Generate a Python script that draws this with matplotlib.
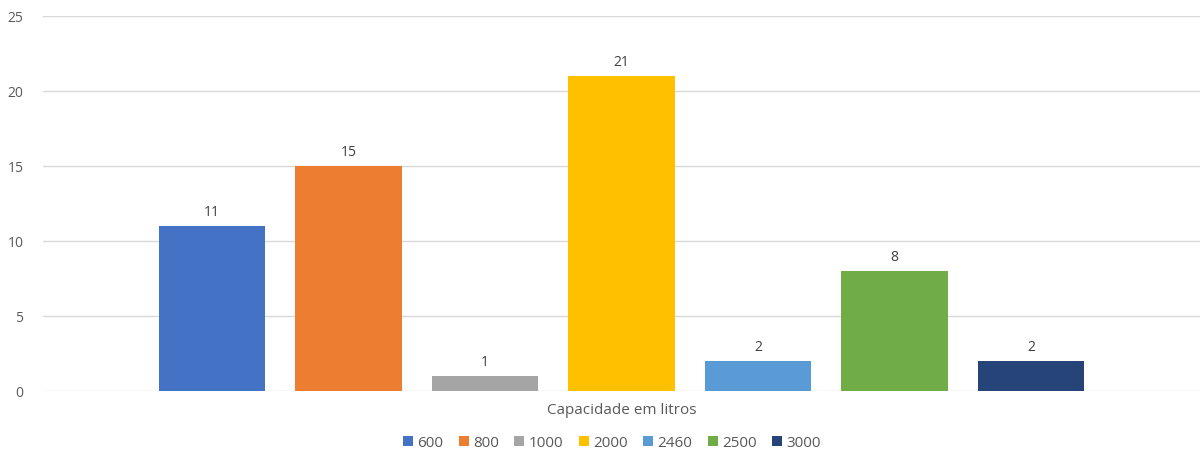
import matplotlib.pyplot as plt
import numpy as np

# data
labels = ["600", "800", "1000", "2000", "2460", "2500", "3000"]
values = [11, 15, 1, 21, 2, 8, 2]
colors = ["#4472C4", "#ED7D31", "#A5A5A5", "#FFC000", "#5B9BD5", "#70AD47", "#264478"]

plt.rcParams['font.family'] = ['Open Sans', 'DejaVu Sans']

fig = plt.figure(figsize=(12.02, 4.52), dpi=100)
ax = fig.add_axes([43 / 1202, 1 - 391.5 / 452, (1200 - 43) / 1202, (391.5 - 16.5) / 452])

x = np.arange(len(values))
for i in range(len(values)):
    ax.bar(x[i], values[i], width=0.78, color=colors[i], label=labels[i], zorder=3)
    ax.text(x[i], values[i] + 0.45, str(values[i]), ha="center", va="bottom",
            fontsize=10, color="#404040")

ax.set_xlim(-1.24, 7.24)
ax.set_ylim(0, 25)
ax.set_yticks([0, 5, 10, 15, 20, 25])
ax.set_xticks([])
ax.grid(axis="y", color="#d9d9d9", linewidth=1, zorder=0)
for s in ax.spines.values():
    s.set_visible(False)
ax.tick_params(axis="y", length=0, labelsize=10, labelcolor="#595959", pad=14)

ax.set_xlabel("Capacidade em litros", fontsize=11, color="#595959", labelpad=8)

fig.legend(loc="center", bbox_to_anchor=(612 / 1202, 1 - 444 / 452), ncol=7, frameon=False,
           fontsize=11, labelcolor="#595959", handlelength=0.65, handleheight=0.65,
           handletextpad=0.3, columnspacing=1.0)

plt.savefig("out.png", dpi=100)
